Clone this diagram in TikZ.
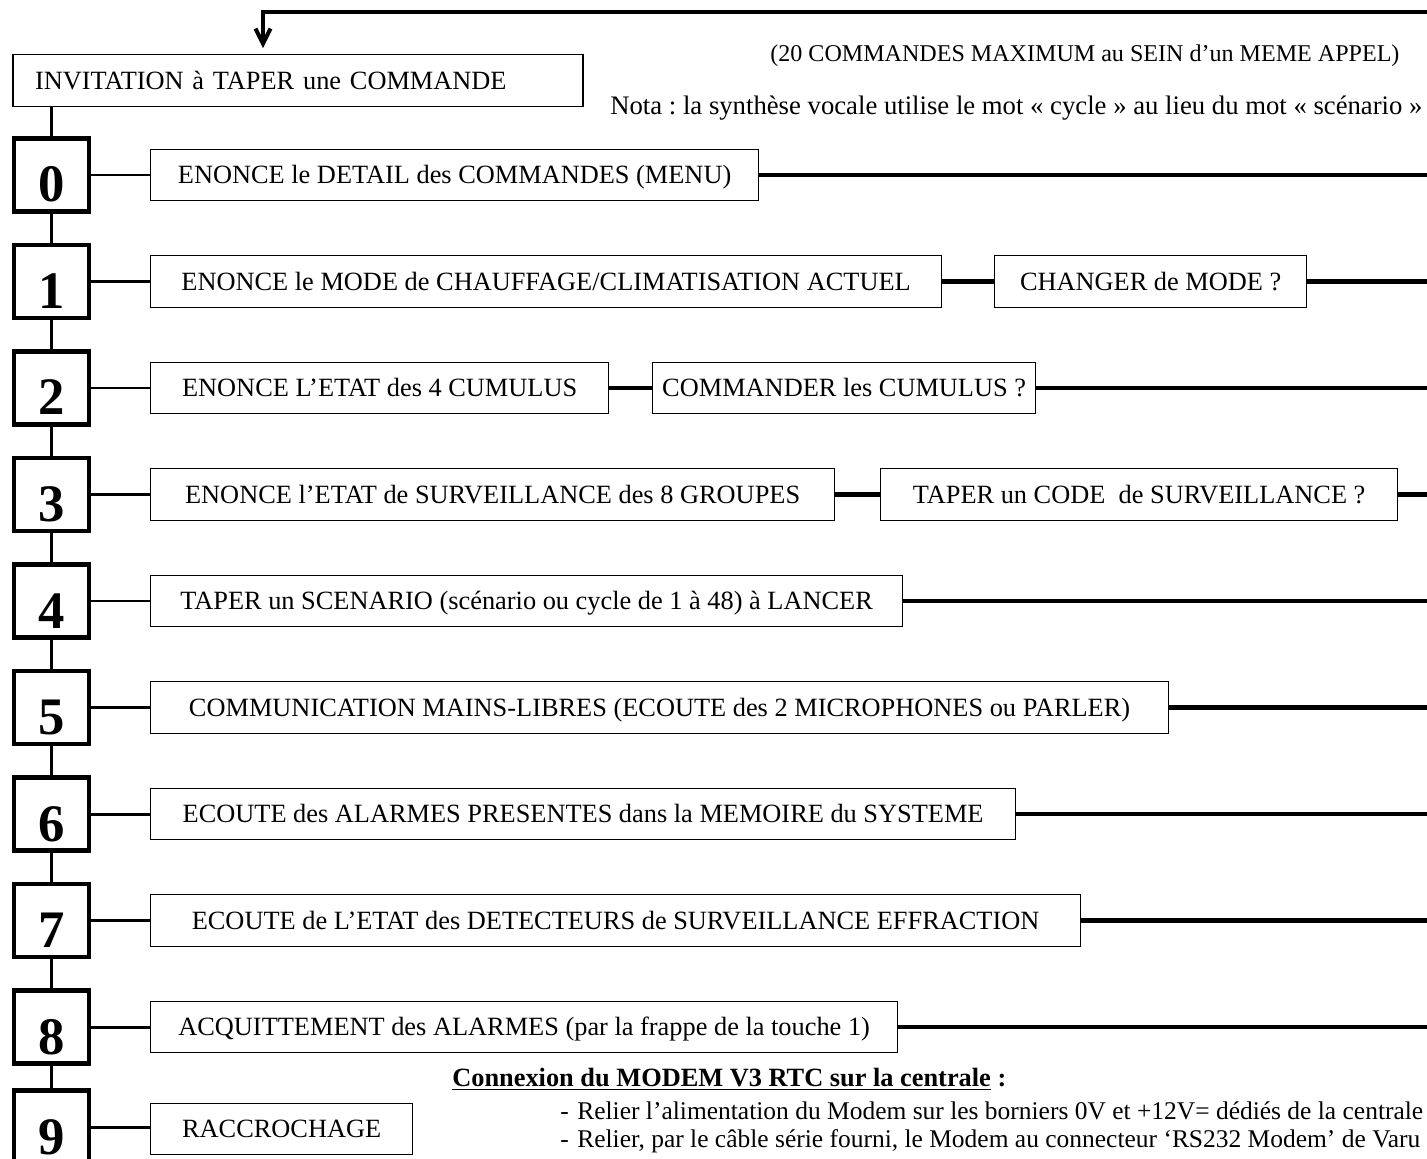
\documentclass[tikz,border=0pt]{standalone}
\usepackage{fontspec}
\setmainfont{Liberation Serif}
\usetikzlibrary{arrows.meta}
\frenchspacing

\tikzset{
  stepbox/.style={draw, line width=2.3pt, minimum width=1.5cm, minimum height=1.46cm, inner sep=0pt,
    text height=1.08cm, text depth=0pt, font=\bfseries\fontsize{30}{30}\selectfont},
  actbox/.style={draw, line width=0.8pt, anchor=west, minimum height=1.03cm, inner sep=0pt,
    text height=9.9pt, text depth=0pt, font=\fontsize{15}{18}\selectfont},
  link/.style={line width=1.7pt},
  bus/.style={line width=2.3pt},
  note/.style={anchor=base west, inner sep=0pt, font=\fontsize{15}{18}\selectfont},
}

\begin{document}
\begin{tikzpicture}[x=0.02cm, y=-0.02cm]
  \useasboundingbox (0,0) rectangle (1427,1159);
  \coordinate (edge) at (1427,0);
  \coordinate (ret) at (263,12);

  \node[draw, line width=0.8pt, text width=10.52cm, align=left, inner xsep=0.44cm, inner ysep=0pt,
    minimum height=1.03cm, text height=9.9pt, text depth=0pt,
    font=\fontsize{15}{18}\selectfont] (inv) at (298,80.5) {INVITATION à TAPER une COMMANDE};
  \node[note, font=\fontsize{13.7}{16}\selectfont] (maxi) at (770,62) {(20 COMMANDES MAXIMUM au SEIN d’un MEME APPEL)};
  \node[note, font=\fontsize{15.2}{18}\selectfont] (nota) at (610,114) {Nota : la synthèse vocale utilise le mot «~cycle~» au lieu du mot «~scénario~»};

  \node[stepbox] (s0) at (51.5,175) {0};
  \node[stepbox] (s1) at (51.5,281.5) {1};
  \node[stepbox] (s2) at (51.5,388) {2};
  \node[stepbox] (s3) at (51.5,494.5) {3};
  \node[stepbox] (s4) at (51.5,601) {4};
  \node[stepbox] (s5) at (51.5,707.5) {5};
  \node[stepbox] (s6) at (51.5,814) {6};
  \node[stepbox] (s7) at (51.5,920.5) {7};
  \node[stepbox] (s8) at (51.5,1027) {8};
  \node[stepbox] (s9) at (51.5,1127) {9};

  \node[actbox, minimum width=12.16cm] (a0) at (150,175) {ENONCE le DETAIL des COMMANDES (MENU)};
  \node[actbox, minimum width=15.82cm] (a1) at (150,281.5) {ENONCE le MODE de CHAUFFAGE/CLIMATISATION ACTUEL};
  \node[actbox, minimum width=6.24cm] (b1) at (994,281.5) {CHANGER de MODE ?};
  \node[actbox, minimum width=9.16cm] (a2) at (150,388) {ENONCE L’ETAT des 4 CUMULUS};
  \node[actbox, minimum width=7.66cm] (b2) at (652,388) {COMMANDER les CUMULUS ?};
  \node[actbox, minimum width=13.68cm] (a3) at (150,494.5) {ENONCE l’ETAT de SURVEILLANCE des 8 GROUPES};
  \node[actbox, minimum width=10.34cm] (b3) at (880,494.5) {TAPER un CODE \ de SURVEILLANCE ?};
  \node[actbox, minimum width=15.04cm] (a4) at (150,601) {TAPER un SCENARIO (scénario ou cycle de 1 à 48) à LANCER};
  \node[actbox, minimum width=20.36cm] (a5) at (150,707.5) {COMMUNICATION MAINS-LIBRES (ECOUTE des 2 MICROPHONES ou PARLER)};
  \node[actbox, minimum width=17.3cm] (a6) at (150,814) {ECOUTE des ALARMES PRESENTES dans la MEMOIRE du SYSTEME};
  \node[actbox, minimum width=18.6cm] (a7) at (150,920.5) {ECOUTE de L’ETAT des DETECTEURS de SURVEILLANCE EFFRACTION};
  \node[actbox, minimum width=14.94cm] (a8) at (150,1027) {ACQUITTEMENT des ALARMES (par la frappe de la touche 1)};
  \node[actbox, minimum width=5.24cm] (a9) at (150,1129) {RACCROCHAGE};

  \node[note, font=\bfseries\fontsize{15}{18}\selectfont] (cnx) at (452,1086) {\underline{Connexion du MODEM V3 RTC sur la centrale} :};
  \node[note, font=\fontsize{14.5}{17}\selectfont] (rel1) at (560,1119) {\makebox[0.34cm][l]{-}Relier l’alimentation du Modem sur les borniers 0V et +12V= dédiés de la centrale};
  \node[note, font=\fontsize{14.5}{17}\selectfont] (rel2) at (560,1147) {\makebox[0.34cm][l]{-}Relier, par le câble série fourni, le Modem au connecteur ‘RS232 Modem’ de Varu};

  \draw[bus, -{Straight Barb[length=0.3cm,width=0.3cm]}, shorten >=0.12cm] (edge |- ret) -| (ret |- inv.north);
  \draw[link] (inv.south -| s0) -- (s0);
  \draw[link] (s0) -- (s1);
  \draw[link] (s1) -- (s2);
  \draw[link] (s2) -- (s3);
  \draw[link] (s3) -- (s4);
  \draw[link] (s4) -- (s5);
  \draw[link] (s5) -- (s6);
  \draw[link] (s6) -- (s7);
  \draw[link] (s7) -- (s8);
  \draw[link] (s8) -- (s9);

  \draw[link] (s0) -- (a0);
  \draw[link] (s1) -- (a1);
  \draw[link] (s2) -- (a2);
  \draw[link] (s3) -- (a3);
  \draw[link] (s4) -- (a4);
  \draw[link] (s5) -- (a5);
  \draw[link] (s6) -- (a6);
  \draw[link] (s7) -- (a7);
  \draw[link] (s8) -- (a8);
  \draw[link] (s9) -- (s9 -| a9.west);

  \draw[bus] (a1) -- (b1);
  \draw[bus] (a2) -- (b2);
  \draw[bus] (a3) -- (b3);
  \draw[bus] (a0) -- (a0 -| edge);
  \draw[bus] (b1) -- (b1 -| edge);
  \draw[bus] (b2) -- (b2 -| edge);
  \draw[bus] (b3) -- (b3 -| edge);
  \draw[bus] (a4) -- (a4 -| edge);
  \draw[bus] (a5) -- (a5 -| edge);
  \draw[bus] (a6) -- (a6 -| edge);
  \draw[bus] (a7) -- (a7 -| edge);
  \draw[bus] (a8) -- (a8 -| edge);
\end{tikzpicture}
\end{document}
